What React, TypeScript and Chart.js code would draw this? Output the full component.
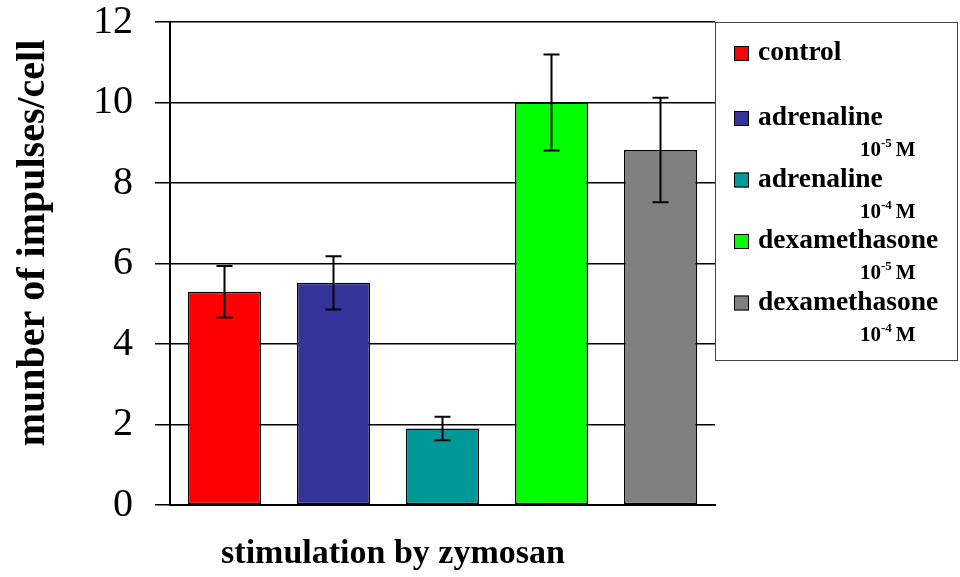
import React, { useEffect, useRef } from 'react';
import { Chart, registerables } from 'chart.js';

Chart.register(...registerables);

const categories = [
  'control',
  'adrenaline 10-5 M',
  'adrenaline 10-4 M',
  'dexamethasone 10-5 M',
  'dexamethasone 10-4 M',
];
const legendNames = ['control', 'adrenaline', 'adrenaline', 'dexamethasone', 'dexamethasone'];
const legendExponents = ['', '-5', '-4', '-5', '-4'];
const values = [5.3, 5.52, 1.9, 10.0, 8.82];
const errors = [0.64, 0.66, 0.29, 1.19, 1.3];
const barColors = ['#FF0000', '#333399', '#009999', '#00FF00', '#808080'];
const yTicks = [0, 2, 4, 6, 8, 10, 12];
const yTitle = 'munber of impulses/cell';
const xTitle = 'stimulation by zymosan';

const SERIF = "'Liberation Serif', 'Times New Roman', serif";

const errorBarPlugin = {
  id: 'errorBars',
  afterDatasetsDraw(chart: any) {
    const { ctx } = chart;
    const meta = chart.getDatasetMeta(0);
    const y = chart.scales.y;
    ctx.save();
    ctx.strokeStyle = '#000';
    ctx.lineWidth = 2;
    meta.data.forEach((bar: any, i: number) => {
      const x = bar.x;
      const top = y.getPixelForValue(values[i] + errors[i]);
      const bot = y.getPixelForValue(values[i] - errors[i]);
      ctx.beginPath();
      ctx.moveTo(x, top);
      ctx.lineTo(x, bot);
      ctx.moveTo(x - 8, top);
      ctx.lineTo(x + 8, top);
      ctx.moveTo(x - 8, bot);
      ctx.lineTo(x + 8, bot);
      ctx.stroke();
    });
    ctx.restore();
  },
};

const titlesAndLegendPlugin = {
  id: 'titlesAndLegend',
  afterDraw(chart: any) {
    const { ctx, chartArea } = chart;
    ctx.save();
    // axis titles
    ctx.fillStyle = '#000';
    ctx.font = `bold 34px ${SERIF}`;
    ctx.textAlign = 'center';
    ctx.textBaseline = 'alphabetic';
    ctx.fillText(xTitle, 393, 563);

    ctx.save();
    ctx.translate(44, 243);
    ctx.rotate(-Math.PI / 2);
    ctx.font = `bold 40px ${SERIF}`;
    ctx.fillText(yTitle, 0, 0);
    ctx.restore();

    // legend box
    const bx = chartArea.right;
    const by = chartArea.top;
    const bw = 242;
    const bh = 338;
    ctx.fillStyle = '#fff';
    ctx.fillRect(bx, by, bw, bh);
    ctx.strokeStyle = '#444';
    ctx.lineWidth = 1;
    ctx.strokeRect(bx + 0.5, by + 0.5, bw, bh);

    legendNames.forEach((name, i) => {
      const rowY = by + 31 + (i === 0 ? 0 : 65 + (i - 1) * 61.5);
      ctx.fillStyle = barColors[i];
      ctx.fillRect(bx + 19, rowY - 7, 15, 15);
      ctx.strokeStyle = '#000';
      ctx.lineWidth = 1;
      ctx.strokeRect(bx + 19.5, rowY - 6.5, 14, 14);

      ctx.fillStyle = '#000';
      ctx.textAlign = 'left';
      ctx.textBaseline = 'middle';
      ctx.font = `bold 27.5px ${SERIF}`;
      ctx.fillText(name, bx + 43, rowY);

      const exp = legendExponents[i];
      if (exp) {
        const cy = rowY + 30;
        let x = bx + 145;
        ctx.textBaseline = 'alphabetic';
        ctx.font = `bold 21px ${SERIF}`;
        const base = cy + 8;
        ctx.fillText('10', x, base);
        x += ctx.measureText('10').width;
        ctx.font = `bold 13px ${SERIF}`;
        ctx.fillText(exp, x, base - 9);
        x += ctx.measureText(exp).width + 4;
        ctx.font = `bold 21px ${SERIF}`;
        ctx.fillText('M', x, base);
      }
    });
    ctx.restore();
  },
};

export default function App() {
  const canvasRef = useRef<HTMLCanvasElement | null>(null);

  useEffect(() => {
    document.body.style.margin = '0';
    const canvas = canvasRef.current;
    if (!canvas) return;
    const chart = new Chart(canvas, {
      type: 'bar',
      data: {
        labels: categories,
        datasets: [
          {
            data: values,
            backgroundColor: barColors,
            borderColor: '#000',
            borderWidth: 1.5,
            borderSkipped: false,
            barPercentage: 0.67,
            categoryPercentage: 1,
          },
        ],
      },
      options: {
        animation: false,
        responsive: true,
        maintainAspectRatio: false,
        layout: { padding: { top: 22, right: 245, left: 0, bottom: 0 } },
        plugins: {
          legend: { display: false },
          tooltip: { enabled: false },
          title: { display: false },
        },
        scales: {
          x: {
            ticks: { display: false },
            grid: { display: false },
            border: { display: true, color: '#000', width: 2 },
            afterFit(scale: any) {
              scale.height = 72;
            },
          },
          y: {
            min: 0,
            max: 12,
            afterBuildTicks(scale: any) {
              scale.ticks = yTicks.map((v) => ({ value: v }));
            },
            ticks: {
              color: '#000',
              padding: 22,
              font: { family: SERIF, size: 40, lineHeight: 1 },
            },
            grid: { color: '#000', lineWidth: 1.5, tickLength: 15, drawTicks: true },
            border: { display: true, color: '#000', width: 2 },
            afterFit(scale: any) {
              scale.width = 170;
              scale.paddingTop = 0;
              scale.paddingBottom = 0;
            },
          },
        },
      },
      plugins: [errorBarPlugin, titlesAndLegendPlugin],
    });
    return () => chart.destroy();
  }, []);

  return (
    <div style={{ position: 'absolute', left: 0, top: 0, width: 960, height: 577, background: '#fff' }}>
      <canvas ref={canvasRef} />
    </div>
  );
}
